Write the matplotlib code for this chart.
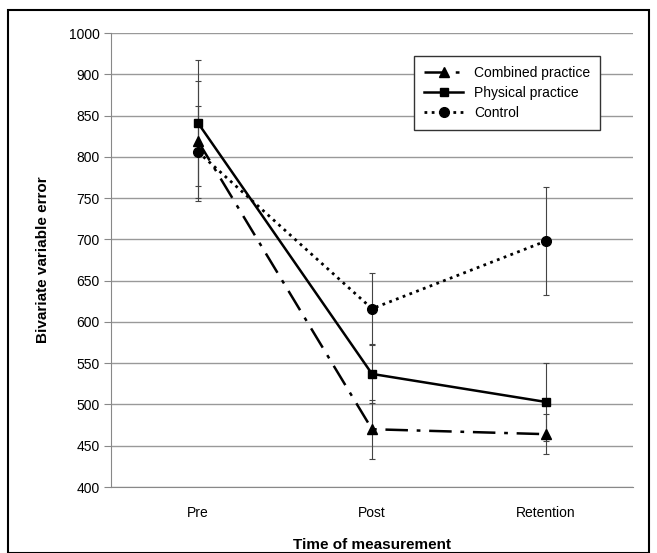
import matplotlib.pyplot as plt
from matplotlib.patches import Rectangle

times = ["Pre", "Post", "Retention"]
combined = [819, 470, 464]
combined_err = [73, 36, 24]
physical = [841, 537, 503]
physical_err = [76, 35, 47]
control = [806, 616, 698]
control_err = [56, 43, 66]
y_ticks = [400, 450, 500, 550, 600, 650, 700, 750, 800, 850, 900, 950]
y_tick_labels = ["400", "450", "500", "550", "600", "650", "700", "750", "800", "850", "900", "1000"]

plt.rcParams['font.family'] = ['Liberation Sans', 'DejaVu Sans']

fig = plt.figure(figsize=(6.57, 5.53), dpi=100)
ax = fig.add_axes([111 / 657, 1 - 487 / 553, 522 / 657, 454 / 553])

x = list(range(len(times)))

for vals, errs in [(combined, combined_err), (physical, physical_err), (control, control_err)]:
    ax.errorbar(x, vals, yerr=errs, fmt='none', ecolor='#444444', elinewidth=0.8,
                capsize=2.5, capthick=0.8, zorder=2)

ax.plot(x, combined, color='black', lw=1.8, dashes=(9, 3.5, 1.5, 3.5), marker='^',
        markersize=7, label='Combined practice', zorder=3)
ax.plot(x, physical, color='black', lw=1.8, linestyle='-', marker='s',
        markersize=6, label='Physical practice', zorder=3)
ax.plot(x, control, color='black', lw=2.0, linestyle=(0, (1, 1.6)), marker='o',
        markersize=7, label='Control', zorder=3)

ax.set_xlim(-0.5, 2.5)
ax.set_ylim(400, 950)
ax.set_yticks(y_ticks)
ax.set_yticklabels(y_tick_labels)
ax.set_xticks(x)
ax.set_xticklabels(times)
ax.grid(axis='y', color='#999999', lw=1.0)
ax.set_axisbelow(True)

for s in ['top', 'right']:
    ax.spines[s].set_visible(False)
ax.spines['left'].set_color('#888888')
ax.spines['bottom'].set_color('#888888')
ax.tick_params(axis='y', length=5, color='#888888', labelsize=10, pad=3)
ax.tick_params(axis='x', length=0, labelsize=10, pad=14)

ax.set_ylabel("Bivariate variable error", fontsize=11, fontweight='bold', labelpad=14)
fig.text(372 / 657, 1 - 545 / 553, "Time of measurement", fontsize=11, fontweight='bold',
         ha='center', va='center')

leg = ax.legend(loc='upper right', bbox_to_anchor=(600 / 657, 1 - 56 / 553),
                bbox_transform=fig.transFigure, fancybox=False, edgecolor='#333333',
                framealpha=1, fontsize=10, handlelength=2.8, borderpad=0.7,
                labelspacing=0.45, borderaxespad=0)
leg.get_frame().set_linewidth(1.0)

fig.patches.append(Rectangle((8 / 657, 0), 641 / 657, 1 - 10 / 553, transform=fig.transFigure,
                             fill=False, edgecolor='black', lw=1.5))

fig.savefig("out.png", dpi=100)
